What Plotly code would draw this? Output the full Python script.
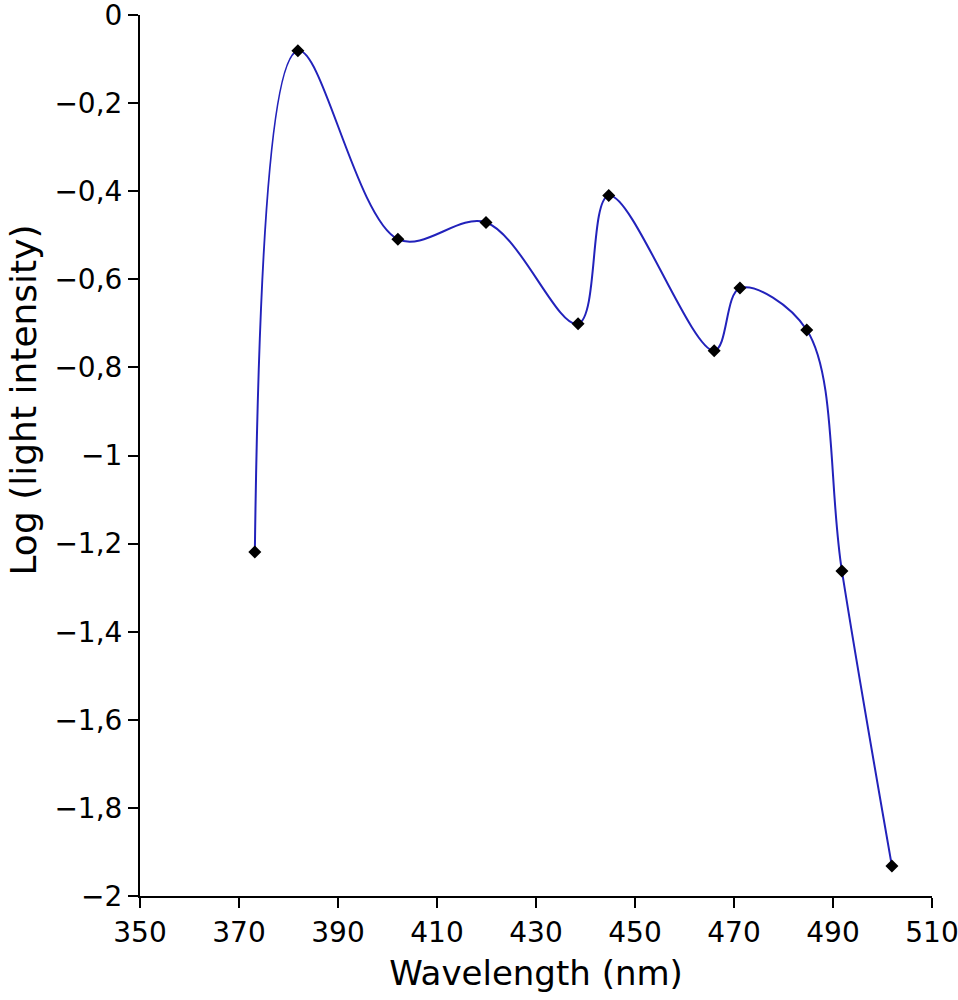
import plotly.graph_objects as go

wavelength = [373.2, 381.9, 402.1, 419.9, 438.5, 444.7, 466.0, 471.2, 484.7, 491.8, 501.9]
log_intensity = [-1.219, -0.081, -0.509, -0.471, -0.701, -0.41, -0.762, -0.62, -0.715, -1.262, -1.932]

x_ticks = [350, 370, 390, 410, 430, 450, 470, 490, 510]
y_ticks = [0, -0.2, -0.4, -0.6, -0.8, -1, -1.2, -1.4, -1.6, -1.8, -2]
y_tick_text = ["0", "−0,2", "−0,4", "−0,6", "−0,8", "−1", "−1,2", "−1,4", "−1,6", "−1,8", "−2"]

font_family = "DejaVu Sans, Verdana, sans-serif"

fig = go.Figure()
fig.add_trace(go.Scatter(
    x=wavelength, y=log_intensity,
    mode="lines+markers",
    line=dict(color="#2222bb", width=2, shape="spline", smoothing=1.0),
    marker=dict(symbol="diamond", color="black", size=10),
    showlegend=False,
))

fig.update_layout(
    width=958, height=1000,
    margin=dict(l=140, r=26, t=15, b=104),
    paper_bgcolor="white", plot_bgcolor="white",
    font=dict(family=font_family, size=28, color="black"),
    xaxis=dict(
        range=[350, 510], tickvals=x_ticks, ticktext=[str(v) for v in x_ticks],
        showgrid=False, zeroline=False, showline=True, linecolor="black", linewidth=2,
        ticks="outside", ticklen=10, tickwidth=2, tickcolor="black",
        automargin=False, ticklabeloverflow="allow",
        title=dict(text="Wavelength (nm)", font=dict(size=34), standoff=14),
    ),
    yaxis=dict(
        range=[-2, 0], tickvals=y_ticks, ticktext=y_tick_text,
        showgrid=False, zeroline=False, showline=True, linecolor="black", linewidth=2,
        ticks="outside", ticklen=10, tickwidth=2, tickcolor="black",
        automargin=False, ticklabeloverflow="allow",
    ),
    annotations=[dict(
        text="Log (light intensity)", textangle=-90,
        xref="paper", yref="paper", x=-0.147, y=0.563,
        xanchor="center", yanchor="middle", showarrow=False,
        font=dict(size=36),
    )],
)

fig.write_html("out.html")
